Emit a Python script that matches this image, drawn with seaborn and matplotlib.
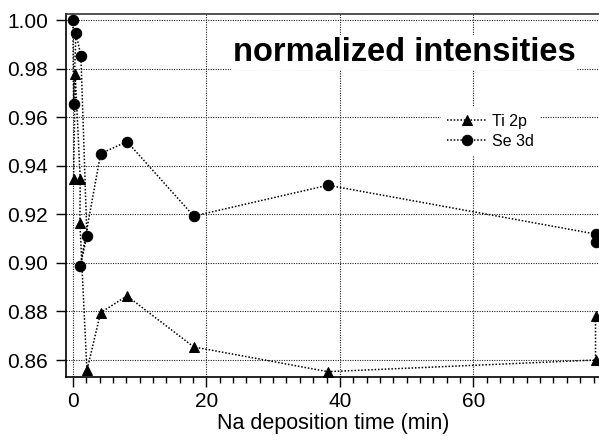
import matplotlib
matplotlib.use("Agg")
import matplotlib.pyplot as plt
import seaborn as sns
import pandas as pd
from matplotlib.ticker import MultipleLocator

# ---- data ----
ti_time = [0.1, 0.35, 1.1, 1.05, 2.1, 4.15, 8.1, 18.1, 38.2, 78.3, 78.3]
ti_vals = [0.9345, 0.9778, 0.9345, 0.9164, 0.8557, 0.8795, 0.8864, 0.8654, 0.8552, 0.8600, 0.8780]
se_time = [0.0, 0.1, 0.45, 1.2, 2.1, 1.1, 4.15, 8.1, 18.1, 38.2, 78.3, 78.3]
se_vals = [1.0000, 0.9654, 0.9949, 0.9853, 0.9110, 0.8988, 0.9450, 0.9500, 0.9193, 0.9320, 0.9119, 0.9086]
series_names = ["Ti 2p", "Se 3d"]
x_ticks = [0, 20, 40, 60]
y_ticks = [0.86, 0.88, 0.90, 0.92, 0.94, 0.96, 0.98, 1.00]
title_text = "normalized intensities"
x_label = "Na deposition time (min)"

sns.set_style("white")
plt.rcParams["font.family"] = ["Liberation Sans", "DejaVu Sans"]
for k in ["text.color", "axes.labelcolor", "xtick.color", "ytick.color"]:
    plt.rcParams[k] = "black"

fig = plt.figure(figsize=(5.99, 4.43), dpi=100)
ax = fig.add_axes([0.110, 0.149, 0.892, 0.819])

ti_df = pd.DataFrame({"t": ti_time, "v": ti_vals})
se_df = pd.DataFrame({"t": se_time, "v": se_vals})

dash = (0, (3, 2))
sns.lineplot(data=ti_df, x="t", y="v", sort=False, estimator=None, ax=ax, color="black",
             marker="^", markersize=7.5, markeredgecolor="black", lw=1.1,
             linestyle=dash, label=series_names[0], zorder=3)
sns.lineplot(data=se_df, x="t", y="v", sort=False, estimator=None, ax=ax, color="black",
             marker="o", markersize=7.5, markeredgecolor="black", lw=1.1,
             linestyle=dash, label=series_names[1], zorder=3)

ax.set_xlim(-1.05, 79.0)
ax.set_ylim(0.8530, 1.00247)
ax.set_xticks(x_ticks)
ax.set_yticks(y_ticks)
ax.set_yticklabels([f"{v:.2f}" for v in y_ticks])
ax.xaxis.set_minor_locator(MultipleLocator(2))

ax.grid(True, which="major", color="#222222", linestyle=(0, (1, 1.2)), linewidth=0.8)
ax.set_axisbelow(True)

ax.tick_params(axis="both", which="major", direction="out", length=7, width=1,
               labelsize=15, color="black", labelcolor="black", bottom=True, left=True)
ax.tick_params(axis="x", which="major", pad=4)
ax.tick_params(axis="y", which="major", pad=6)
ax.tick_params(axis="x", which="minor", direction="out", length=4, width=1,
               color="black", bottom=True)

for s in ["left", "bottom", "top"]:
    ax.spines[s].set_color("black")
    ax.spines[s].set_linewidth(1.2)
ax.spines["top"].set_color("#333333")
ax.spines["right"].set_visible(False)

ax.set_xlabel(x_label, fontsize=15.5, labelpad=1, color="black")
ax.set_ylabel("")

ax.text(0.633, 0.895, title_text, transform=ax.transAxes, ha="center", va="center",
        fontsize=23.5, fontweight="bold", color="black",
        bbox=dict(facecolor="white", edgecolor="none", pad=1.5), zorder=4)

h, l = ax.get_legend_handles_labels()
for hh in h:
    hh.set_linestyle((0, (1, 1.2)))
leg = ax.legend(h, l, loc="upper left", bbox_to_anchor=(0.687, 0.765), fontsize=11.5,
                frameon=True, handlelength=2.4, handletextpad=0.4, labelspacing=0.3,
                borderpad=0.4, fancybox=False)
leg.get_frame().set_facecolor("white")
leg.get_frame().set_edgecolor("none")
leg.get_frame().set_alpha(1)
for t in leg.get_texts():
    t.set_color("black")

fig.savefig("out.png", dpi=100)
